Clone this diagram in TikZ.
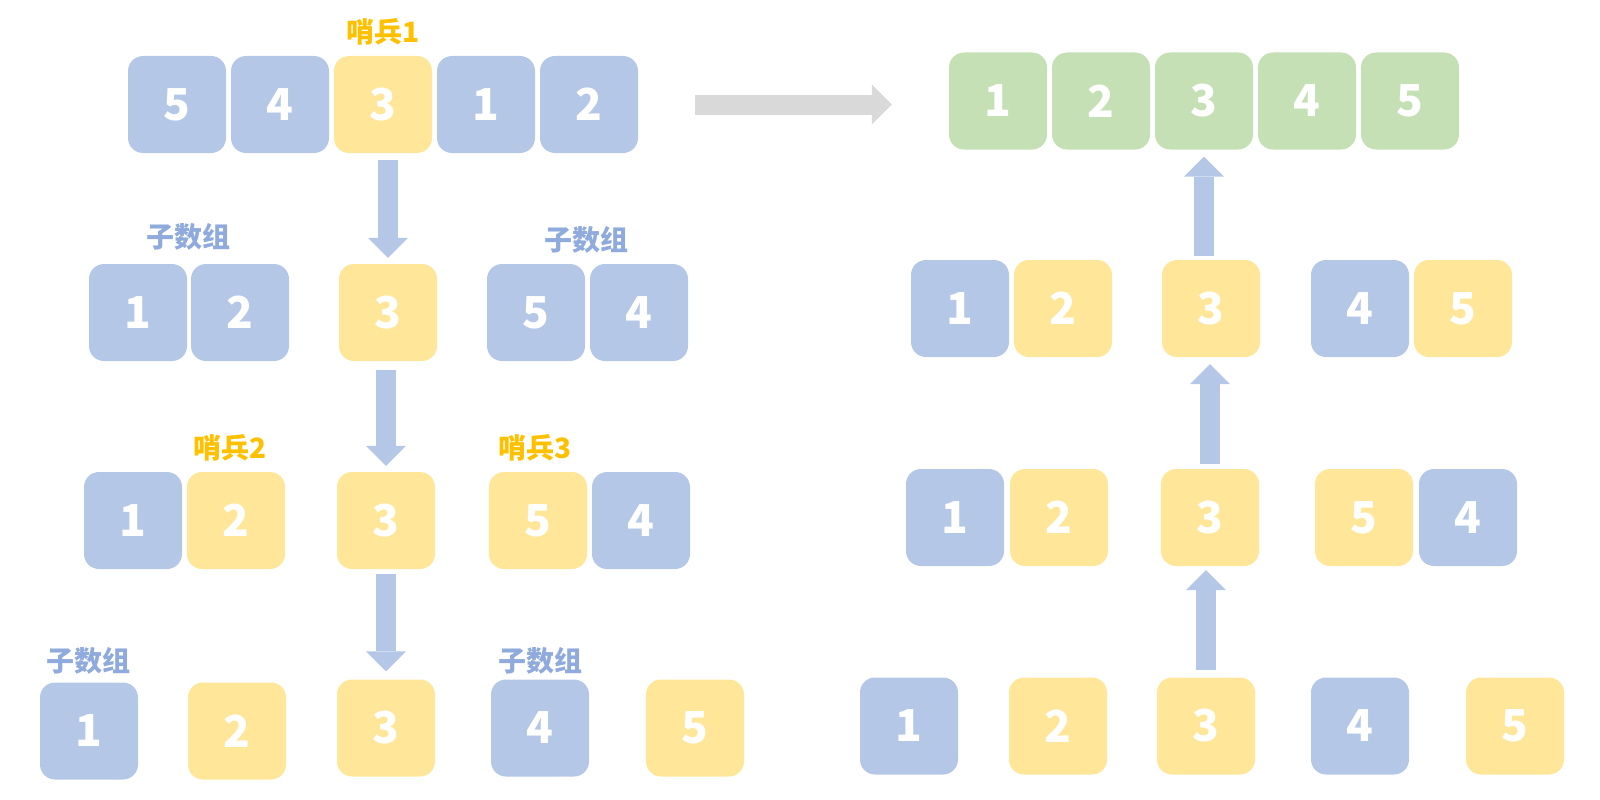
\documentclass[tikz,border=0pt]{standalone}
\usepackage{fontspec}
\newfontfamily\cjk{Noto Sans CJK SC}
\usetikzlibrary{arrows.meta}
\definecolor{cblue}{HTML}{B4C7E7}
\definecolor{cyellow}{HTML}{FFE699}
\definecolor{cgreen}{HTML}{C5E0B4}
\definecolor{clabel}{HTML}{8FAADC}
\definecolor{cgold}{HTML}{FFC000}
\definecolor{cgray}{HTML}{D9D9D9}
\tikzset{
  cell/.style={rounded corners=15pt, minimum width=98pt, minimum height=97pt, inner sep=0pt,
    text=white, font=\cjk\bfseries\fontsize{44}{44}\selectfont},
  bc/.style={cell, fill=cblue},
  yc/.style={cell, fill=cyellow},
  gc/.style={cell, fill=cgreen},
  sublabel/.style={text=clabel, inner sep=0pt, font=\cjk\bfseries\fontsize{28}{28}\selectfont},
  sentlabel/.style={text=cgold, inner sep=0pt, font=\cjk\bfseries\fontsize{28}{28}\selectfont},
  barrow/.style={draw=cblue, line width=20pt, -{Triangle[width=40pt,length=20pt,line width=0pt]}},
  garrow/.style={draw=cgray, line width=20pt, -{Triangle[width=40pt,length=20pt,line width=0pt]}}
}
\begin{document}
\begin{tikzpicture}[x=1pt,y=-1pt]
\useasboundingbox (0,0) rectangle (1600,800);
% ---- left, row 1
\node[bc] (a1) at (177,104.5) {5};
\node[bc] (a2) at (280,104.5) {4};
\node[yc] (a3) at (383,104.5) {3};
\node[bc] (a4) at (486,104.5) {1};
\node[bc] (a5) at (589,104.5) {2};
\node[sentlabel] (s1) at (383,32) {哨兵1};
% ---- left, row 2
\node[bc] (b1) at (138,312.5) {1};
\node[bc] (b2) at (240,312.5) {2};
\node[yc] (b3) at (388,312.5) {3};
\node[bc] (b4) at (536,312.5) {5};
\node[bc] (b5) at (639,312.5) {4};
\node[sublabel] (sb1) at (188,237) {子数组};
\node[sublabel] (sb2) at (586,240) {子数组};
% ---- left, row 3
\node[bc] (c1) at (133,520.5) {1};
\node[yc] (c2) at (236,520.5) {2};
\node[yc] (c3) at (386,520.5) {3};
\node[yc] (c4) at (538,520.5) {5};
\node[bc] (c5) at (641,520.5) {4};
\node[sentlabel] (s2) at (230,448) {哨兵2};
\node[sentlabel] (s3) at (535,448) {哨兵3};
% ---- left, row 4
\node[bc] (d1) at (89,731) {1};
\node[yc] (d2) at (237,731) {2};
\node[yc] (d3) at (386,728) {3};
\node[bc] (d4) at (540,728) {4};
\node[yc] (d5) at (695,728) {5};
\node[sublabel] (sd1) at (88,661) {子数组};
\node[sublabel] (sd2) at (540,661) {子数组};
% ---- right, top (green)
\node[gc] (g1) at (998,101) {1};
\node[gc] (g2) at (1101,101) {2};
\node[gc] (g3) at (1204,101) {3};
\node[gc] (g4) at (1307,101) {4};
\node[gc] (g5) at (1410,101) {5};
% ---- right, row 2
\node[bc] (e1) at (960,308.5) {1};
\node[yc] (e2) at (1063,308.5) {2};
\node[yc] (e3) at (1211,308.5) {3};
\node[bc] (e4) at (1360,308.5) {4};
\node[yc] (e5) at (1463,308.5) {5};
% ---- right, row 3
\node[bc] (f1) at (955,517.5) {1};
\node[yc] (f2) at (1059,517.5) {2};
\node[yc] (f3) at (1210,517.5) {3};
\node[yc] (f4) at (1364,517.5) {5};
\node[bc] (f5) at (1468,517.5) {4};
% ---- right, row 4
\node[bc] (h1) at (909,726) {1};
\node[yc] (h2) at (1058,726) {2};
\node[yc] (h3) at (1206,726) {3};
\node[bc] (h4) at (1360,726) {4};
\node[yc] (h5) at (1515,726) {5};
% ---- arrows, left (down)
\draw[barrow, shorten <=7pt, shorten >=6pt] (b3.north |- a3.south) -- (b3.north);
\draw[barrow, shorten <=9pt, shorten >=6pt] (c3.north |- b3.south) -- (c3.north);
\draw[barrow, shorten <=5pt, shorten >=8pt] (c3.south) -- (d3.north);
% ---- arrows, right (up)
\draw[barrow, shorten <=7pt, shorten >=4pt] (h3.north) -- (h3.north |- f3.south);
\draw[barrow, shorten <=5pt, shorten >=7pt] (f3.north) -- (f3.north |- e3.south);
\draw[barrow, shorten <=4pt, shorten >=7pt] (g3.south |- e3.north) -- (g3.south);
% ---- gray arrow
\draw[garrow, shorten <=57pt, shorten >=57pt] (a5.east) -- (a5.east -| g1.west);
\end{tikzpicture}
\end{document}
